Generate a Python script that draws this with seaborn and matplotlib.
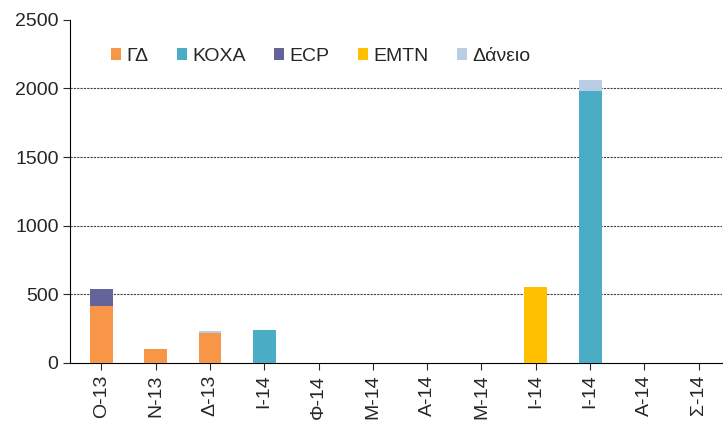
import numpy as np
import pandas as pd
import matplotlib
matplotlib.use("Agg")
import matplotlib.pyplot as plt
from matplotlib.patches import Patch
import seaborn as sns

# ------------------------------
# Data
# ------------------------------

months = ["Ο-13", "Ν-13", "Δ-13", "Ι-14", "Φ-14", "Μ-14",
          "Α-14", "Μ-14", "Ι-14", "Ι-14", "Α-14", "Σ-14"]

gd = [415, 100, 215, 0, 0, 0, 0, 0, 0, 0, 0, 0]
koxa = [0, 0, 0, 240, 0, 0, 0, 0, 0, 1985, 0, 0]
ecp = [125, 0, 0, 0, 0, 0, 0, 0, 0, 0, 0, 0]
emtn = [0, 0, 0, 0, 0, 0, 0, 0, 555, 0, 0, 0]
daneio = [0, 5, 20, 0, 0, 0, 0, 0, 0, 80, 0, 0]

series = ["ΓΔ", "ΚΟΧΑ", "ECP", "EMTN", "Δάνειο"]
colors = ["#F79646", "#4BACC6", "#64649B", "#FFC000", "#B9CDE5"]

# ------------------------------
# Plot
# ------------------------------

sns.set_style("white")
plt.rcParams["font.family"] = ["Liberation Sans", "DejaVu Sans"]

df = pd.DataFrame({"pos": range(len(months)), "ΓΔ": gd, "ΚΟΧΑ": koxa,
                   "ECP": ecp, "EMTN": emtn, "Δάνειο": daneio})
cum = df[series].cumsum(axis=1)

fig, ax = plt.subplots(figsize=(7.25, 4.23), dpi=100)
fig.subplots_adjust(left=0.097, right=0.996, top=0.953, bottom=0.142)

# draw cumulative totals from the top series down so they stack
for name, col in reversed(list(zip(series, colors))):
    sns.barplot(x=df["pos"], y=cum[name], color=col, width=0.42,
                saturation=1, linewidth=0, ax=ax, zorder=3)

ax.set_ylim(0, 2500)
ax.set_yticks(np.arange(0, 2501, 500))
ax.set_xlim(-0.57, len(months) - 0.57)
ax.set_xticks(range(len(months)))
ax.set_xticklabels(months, rotation=90, fontsize=14)
ax.tick_params(axis="y", labelsize=14, length=5, direction="out", left=True)
ax.tick_params(axis="x", length=5, direction="out", bottom=True)
ax.set_xlabel("")
ax.set_ylabel("")

for y in [500, 1000, 1500, 2000]:
    ax.axhline(y, color="#444444", lw=0.8, ls=(0, (2, 1)), zorder=1)

sns.despine(ax=ax, top=True, right=True)
ax.spines["left"].set_color("#000000")
ax.spines["bottom"].set_color("#000000")

handles = [Patch(facecolor=c, edgecolor="none") for c in colors]
ax.legend(handles, series, loc="upper left", bbox_to_anchor=(0.035, 0.97),
          ncol=5, frameon=False, fontsize=14, handlelength=0.55,
          handleheight=0.55, handletextpad=0.25, columnspacing=1.45)

fig.savefig("out.png", dpi=100)
